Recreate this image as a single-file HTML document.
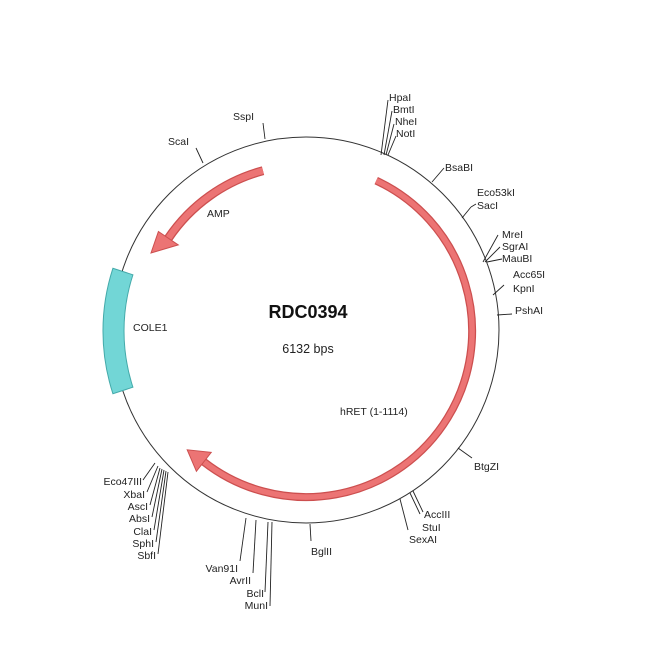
<!DOCTYPE html>
<html><head><meta charset="utf-8"><style>
html,body{margin:0;padding:0;background:#fff;}
svg{display:block;}
text{font-family:"Liberation Sans",sans-serif;font-size:10.5px;fill:#222;}
</style></head><body>
<svg width="650" height="650" viewBox="0 0 650 650" xmlns="http://www.w3.org/2000/svg">
<circle cx="306" cy="330" r="193" fill="none" stroke="#333" stroke-width="1"/>
<!-- COLE1 -->
<path d="M112.9,268.3 A203,203 0 0 0 112.9,393.7 L132.9,387.2 A182,182 0 0 1 132.9,274.8 Z" fill="#72d6d6" stroke="#44aaaa" stroke-width="1"/>
<!-- hRET -->
<path d="M376.2,180.6 A166,166 0 1 1 203.8,461.8" fill="none" stroke="#cc4f4f" stroke-width="8"/>
<path d="M376.2,180.6 A166,166 0 1 1 203.8,461.8" fill="none" stroke="#ec7474" stroke-width="5.5"/>
<polygon points="211.2,452.4 187.2,449.8 196.4,471.3" fill="#ec7474" stroke="#cc4f4f" stroke-width="1"/>
<!-- AMP -->
<path d="M263,170.7 A166,166 0 0 0 168.4,238.2" fill="none" stroke="#cc4f4f" stroke-width="9"/>
<path d="M263,170.7 A166,166 0 0 0 168.4,238.2" fill="none" stroke="#ec7474" stroke-width="6.5"/>
<polygon points="178.3,244.9 151,253 158.4,231.5" fill="#ec7474" stroke="#cc4f4f" stroke-width="1"/>
<g stroke="#222" stroke-width="0.9" fill="none">
<line x1="381" y1="155" x2="388" y2="100"/>
<line x1="384" y1="155" x2="392" y2="111"/>
<line x1="386" y1="155" x2="394" y2="124"/>
<line x1="388" y1="155" x2="396" y2="136"/>
<line x1="432" y1="182" x2="444" y2="168"/>
<line x1="462" y1="218" x2="471" y2="207"/>
<line x1="471" y1="207" x2="476" y2="204"/>
<line x1="483" y1="262" x2="498" y2="235"/>
<line x1="485" y1="262" x2="500" y2="247"/>
<line x1="487" y1="262" x2="502" y2="259"/>
<line x1="493" y1="295" x2="504" y2="285"/>
<line x1="497" y1="315" x2="512" y2="314"/>
<line x1="458" y1="448" x2="472" y2="458"/>
<line x1="400" y1="499" x2="408" y2="530"/>
<line x1="410" y1="493" x2="420" y2="514"/>
<line x1="413" y1="491" x2="423" y2="512"/>
<line x1="310" y1="524" x2="311" y2="541"/>
<line x1="246" y1="518" x2="240" y2="561"/>
<line x1="256" y1="520" x2="253" y2="573"/>
<line x1="268" y1="522" x2="265" y2="592"/>
<line x1="272" y1="522" x2="270" y2="606"/>
<line x1="155" y1="463" x2="143" y2="480"/>
<line x1="158" y1="466" x2="147" y2="492"/>
<line x1="160" y1="468" x2="150" y2="505"/>
<line x1="162" y1="469" x2="152" y2="517"/>
<line x1="164" y1="470" x2="154" y2="530"/>
<line x1="166" y1="471" x2="156" y2="542"/>
<line x1="168" y1="472" x2="158" y2="554"/>
<line x1="203" y1="163" x2="196" y2="148"/>
<line x1="265" y1="139" x2="263" y2="123"/>
</g>
<text x="389" y="101">HpaI</text>
<text x="393" y="113">BmtI</text>
<text x="395" y="125">NheI</text>
<text x="396" y="137">NotI</text>
<text x="445" y="171">BsaBI</text>
<text x="477" y="196">Eco53kI</text>
<text x="477" y="209">SacI</text>
<text x="502" y="238">MreI</text>
<text x="502" y="250">SgrAI</text>
<text x="502" y="262">MauBI</text>
<text x="513" y="278">Acc65I</text>
<text x="513" y="292">KpnI</text>
<text x="515" y="314">PshAI</text>
<text x="474" y="470">BtgZI</text>
<text x="424" y="518">AccIII</text>
<text x="422" y="531">StuI</text>
<text x="409" y="543">SexAI</text>
<text x="311" y="555">BglII</text>
<text x="238" y="572" text-anchor="end">Van91I</text>
<text x="251" y="584" text-anchor="end">AvrII</text>
<text x="264" y="597" text-anchor="end">BclI</text>
<text x="268" y="609" text-anchor="end">MunI</text>
<text x="142" y="485" text-anchor="end">Eco47III</text>
<text x="145" y="498" text-anchor="end">XbaI</text>
<text x="148" y="510" text-anchor="end">AscI</text>
<text x="150" y="522" text-anchor="end">AbsI</text>
<text x="152" y="535" text-anchor="end">ClaI</text>
<text x="154" y="547" text-anchor="end">SphI</text>
<text x="156" y="559" text-anchor="end">SbfI</text>
<text x="168" y="145">ScaI</text>
<text x="233" y="120">SspI</text>
<text x="207" y="217">AMP</text>
<text x="133" y="331">COLE1</text>
<text x="340" y="415">hRET (1-1114)</text>
<text x="308" y="318" text-anchor="middle" style="font-size:18px;font-weight:bold;fill:#111">RDC0394</text>
<text x="308" y="353" text-anchor="middle" style="font-size:12.5px">6132 bps</text>
</svg>
</body></html>
